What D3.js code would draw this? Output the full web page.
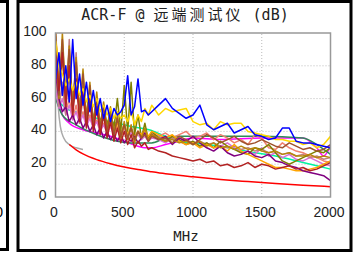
<!DOCTYPE html>
<html>
<head>
<meta charset="utf-8">
<script src="https://cdn.jsdelivr.net/npm/d3@7"></script>
<style>
  body { margin: 0; background: #fff; }
  svg { display: block; }
</style>
</head>
<body>
<div id="chart"></div>
<script>
// shared frequency grid (MHz) for the noisy measurement traces
var freqs = [1, 25, 50, 75, 100, 125, 150, 175, 200, 225, 250, 275, 300, 325, 350, 375, 400, 425, 450, 475,
  500, 525, 550, 575, 600, 625, 650, 675, 700, 750, 800, 850, 900, 950, 1000, 1050, 1100, 1150, 1200, 1250,
  1300, 1350, 1400, 1450, 1500, 1550, 1600, 1650, 1700, 1750, 1800, 1850, 1900, 1950, 2000];

var blueVals = [72, 88, 62, 80, 58, 96, 60, 75, 56, 70, 52, 65, 50, 60, 48, 56, 46, 54, 50, 52,
  56, 74, 50, 55, 72, 52, 53, 50, 52, 56, 60, 54, 51, 48, 50, 56, 44, 41, 43, 45,
  39, 41, 43, 38, 37, 35, 36, 42, 42, 34, 33, 33, 32, 31, 30];
var yellowVals = [95, 80, 75, 68, 72, 65, 70, 62, 66, 58, 62, 55, 60, 52, 56, 50, 54, 48, 52, 48,
  50, 46, 52, 44, 50, 46, 54, 50, 56, 50, 54, 52, 53, 54, 46, 44, 45, 41, 46, 44,
  45, 45, 40, 39, 38, 37, 35, 35, 34, 34, 32, 33, 30, 32, 37];
var orangeVals = [100, 70, 90, 62, 80, 58, 72, 55, 68, 50, 60, 46, 56, 44, 52, 40, 50, 38, 46, 36,
  44, 38, 42, 36, 40, 38, 41, 37, 40, 38, 36, 38, 34, 32, 33, 30, 32, 30, 31, 28,
  32, 28, 26, 24, 22, 20, 18, 18, 17, 16, 16, 17, 18, 20, 22];
var goldenrodVals = [98, 60, 100, 58, 92, 55, 85, 52, 78, 48, 70, 45, 64, 42, 58, 40, 55, 38, 50, 36,
  46, 35, 44, 33, 40, 36, 42, 35, 38, 36, 34, 35, 33, 34, 32, 34, 31, 33, 30, 31,
  29, 31, 29, 30, 28, 27, 28, 26, 27, 25, 25, 26, 24, 25, 24];
var oliveVals = [80, 65, 85, 60, 78, 55, 72, 52, 66, 50, 62, 47, 58, 45, 55, 44, 52, 42, 60, 40,
  68, 40, 70, 38, 50, 36, 45, 35, 40, 36, 34, 37, 35, 32, 34, 31, 33, 30, 34, 31,
  29, 27, 26, 30, 29, 32, 27, 22, 20, 22, 24, 26, 28, 27, 30];
var purpleVals = [75, 60, 52, 55, 46, 50, 44, 48, 42, 46, 40, 44, 38, 42, 36, 40, 35, 38, 34, 38,
  33, 36, 34, 37, 33, 36, 39, 34, 38, 35, 37, 32, 36, 34, 37, 33, 30, 28, 31, 27,
  25, 26, 28, 25, 24, 26, 22, 21, 19, 18, 16, 15, 14, 13, 10];
var firebrickVals = [90, 65, 88, 55, 80, 50, 72, 46, 65, 42, 60, 40, 55, 38, 50, 36, 46, 34, 42, 33,
  40, 32, 38, 30, 34, 31, 33, 29, 30, 28, 27, 25, 24, 23, 22, 23, 21, 22, 19, 20,
  18, 19, 21, 18, 20, 19, 17, 18, 19, 17, 18, 16, 17, 19, 21];
var brownVals = [100, 62, 96, 58, 90, 52, 82, 50, 75, 46, 68, 44, 60, 42, 56, 40, 50, 38, 48, 37,
  44, 36, 42, 35, 40, 36, 38, 34, 37, 35, 36, 33, 37, 35, 32, 35, 38, 36, 33, 35,
  37, 34, 32, 33, 35, 33, 31, 30, 33, 31, 29, 30, 28, 29, 32];
var rosyVals = [85, 55, 70, 50, 96, 48, 88, 45, 60, 44, 58, 42, 54, 41, 52, 40, 48, 40, 46, 38,
  44, 37, 42, 36, 40, 38, 41, 36, 39, 37, 35, 36, 34, 35, 33, 34, 32, 33, 31, 30,
  31, 29, 30, 28, 29, 27, 28, 26, 27, 25, 26, 24, 25, 23, 24];
var salmonVals = [70, 58, 66, 52, 60, 48, 56, 46, 52, 44, 50, 42, 47, 41, 45, 40, 44, 39, 43, 38,
  42, 38, 41, 37, 40, 38, 39, 37, 38, 37, 39, 36, 38, 40, 36, 37, 39, 35, 38, 36,
  33, 35, 32, 38, 36, 30, 29, 33, 30, 28, 27, 25, 24, 22, 21];
var orchidVals = [65, 54, 60, 50, 56, 47, 52, 45, 50, 43, 48, 42, 46, 40, 44, 39, 43, 38, 41, 37,
  40, 37, 39, 36, 38, 35, 37, 34, 36, 35, 33, 36, 34, 32, 34, 31, 33, 30, 31, 33,
  30, 27, 28, 26, 30, 25, 27, 24, 26, 23, 22, 24, 22, 20, 19];

// smoother traces, read as [MHz, dB] pairs
var magentaPts = [[1, 72], [10, 63], [50, 50], [100, 45], [200, 41], [300, 39], [400, 37], [500, 34], [600, 31],
  [650, 30], [700, 30], [800, 32], [900, 34], [1000, 36], [1200, 35], [1500, 36], [1800, 36], [1900, 30], [1950, 25], [2000, 31]];
var mintPts = [[1, 66], [30, 58], [50, 56], [100, 53], [200, 51], [300, 48], [450, 45], [550, 43], [680, 41],
  [800, 37], [900, 34], [1000, 33], [1200, 31], [1450, 27], [1600, 25], [1800, 21], [2000, 17]];
var seagreenPts = [[1, 60], [50, 50], [150, 44], [300, 38], [450, 34], [550, 33], [700, 33], [800, 36], [900, 37],
  [1200, 37], [1500, 37], [1800, 36], [1900, 32], [2000, 26]];
var grayPts = [[1, 100], [5, 85], [10, 70], [20, 55], [35, 43], [60, 36], [100, 32], [150, 30], [200, 29]];
var limitPts = [[100, 32], [150, 28.8], [200, 26.3], [300, 22.8], [400, 20.3], [500, 18.3], [600, 16.7], [700, 15.4],
  [800, 14.2], [1000, 12.3], [1200, 10.7], [1400, 9.4], [1600, 8.2], [1800, 7.2], [2000, 6.3]];

var xTicks = [0, 500, 1000, 1500, 2000];
var yTicks = [0, 20, 40, 60, 80, 100];

var svgWidth = 354, svgHeight = 255;

var svg = d3.select("#chart")
  .append("svg")
  .attr("width", svgWidth)
  .attr("height", svgHeight);

// panel frames (left neighbour is cut off)
svg.append("rect")
  .attr("x", -20).attr("y", 1.5).attr("width", 27.5).attr("height", 248)
  .attr("fill", "none").attr("stroke", "#000").attr("stroke-width", 3);
svg.append("text")
  .attr("x", 3).attr("y", 217)
  .attr("text-anchor", "end")
  .style("font-family", "'Liberation Sans', Arial, sans-serif")
  .style("font-size", "14px")
  .text("0");
svg.append("rect")
  .attr("x", 18).attr("y", 1.5).attr("width", 333).attr("height", 249)
  .attr("fill", "#fff").attr("stroke", "#000").attr("stroke-width", 3);

var xScale = d3.scaleLinear().domain([0, 2000]).range([55.5, 330.5]);
var yScale = d3.scaleLinear().domain([0, 100]).range([197, 33]);

// grid
var grid = svg.append("g");
grid.selectAll(".gx")
  .data(xTicks.slice(1, -1))
  .enter().append("line")
  .attr("x1", d => xScale(d)).attr("x2", d => xScale(d))
  .attr("y1", yScale(0)).attr("y2", yScale(100))
  .attr("stroke", "#bbb").attr("stroke-width", 1).attr("stroke-dasharray", "1,2");
grid.selectAll(".gy")
  .data(yTicks.slice(1, -1))
  .enter().append("line")
  .attr("x1", xScale(0)).attr("x2", xScale(2000))
  .attr("y1", d => yScale(d)).attr("y2", d => yScale(d))
  .attr("stroke", "#bbb").attr("stroke-width", 1).attr("stroke-dasharray", "1,2");

// clip
svg.append("clipPath").attr("id", "plotclip")
  .append("rect")
  .attr("x", xScale(0)).attr("y", yScale(100))
  .attr("width", xScale(2000) - xScale(0)).attr("height", yScale(0) - yScale(100));

var plot = svg.append("g").attr("clip-path", "url(#plotclip)");

var gridLine = d3.line()
  .x((d, i) => xScale(freqs[i]))
  .y(d => yScale(d));
var pairLine = d3.line()
  .x(d => xScale(d[0]))
  .y(d => yScale(d[1]))
  .curve(d3.curveMonotoneX);

var series = [
  { pts: grayPts, color: "#aaaaaa", pairs: true },
  { pts: limitPts, color: "#ff0000", pairs: true },
  { pts: magentaPts, color: "#ff00ff", pairs: true },
  { pts: seagreenPts, color: "#2e8b57", pairs: true },
  { pts: mintPts, color: "#00f5a0", pairs: true },
  { pts: salmonVals, color: "#f08070" },
  { pts: orchidVals, color: "#da70d6" },
  { pts: rosyVals, color: "#c08080" },
  { pts: oliveVals, color: "#808000" },
  { pts: orangeVals, color: "#ffa500" },
  { pts: purpleVals, color: "#800080" },
  { pts: goldenrodVals, color: "#b8860b" },
  { pts: brownVals, color: "#a0522d" },
  { pts: firebrickVals, color: "#b22222" },
  { pts: yellowVals, color: "#ffd700" },
  { pts: blueVals, color: "#0000ff" }
];

plot.selectAll("path")
  .data(series)
  .enter().append("path")
  .attr("d", d => d.pairs ? pairLine(d.pts) : gridLine(d.pts))
  .attr("fill", "none")
  .attr("stroke", d => d.color)
  .attr("stroke-width", 1.5)
  .attr("stroke-linejoin", "round");

// plot frame
svg.append("rect")
  .attr("x", xScale(0)).attr("y", yScale(100))
  .attr("width", xScale(2000) - xScale(0)).attr("height", yScale(0) - yScale(100))
  .attr("fill", "none").attr("stroke", "#999").attr("stroke-width", 1.5);

// axes
var xAxis = d3.axisBottom(xScale).tickValues(xTicks).tickFormat(d3.format("d")).tickSize(0).tickPadding(10);
var yAxis = d3.axisLeft(yScale).tickValues(yTicks).tickFormat(d3.format("d")).tickSize(0).tickPadding(9);

var gx = svg.append("g").attr("transform", `translate(-2, ${yScale(0)})`).call(xAxis);
var gy = svg.append("g").attr("transform", `translate(${xScale(0)}, -2)`).call(yAxis);
[gx, gy].forEach(function(g) {
  g.select(".domain").remove();
  g.selectAll("text")
    .attr("fill", "#222")
    .style("font-family", "'Liberation Sans', Arial, sans-serif")
    .style("font-size", "14px");
});

// labels
svg.append("text")
  .attr("x", 186).attr("y", 241)
  .attr("text-anchor", "middle")
  .attr("fill", "#222")
  .style("font-family", "'DejaVu Sans Mono', monospace")
  .style("font-size", "14px")
  .text("MHz");

var title = svg.append("text")
  .attr("x", 185).attr("y", 20)
  .attr("text-anchor", "middle")
  .attr("fill", "#222")
  .style("font-family", "'DejaVu Sans Mono', 'Noto Sans CJK SC', monospace")
  .style("font-size", "15px");
title.append("tspan").text("ACR-F @ ");
title.append("tspan").attr("letter-spacing", "3px").style("font-family", "'Noto Sans CJK SC'").text("远端测试仪");
title.append("tspan").text(" (dB)");
</script>
</body>
</html>
